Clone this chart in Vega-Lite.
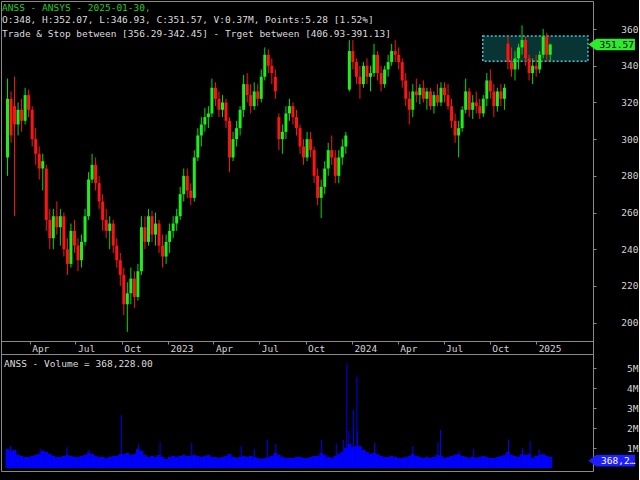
{
  "$schema": "https://vega.github.io/schema/vega-lite/v6.json",
  "background": "#000000",
  "padding": {"left": 0, "top": 0, "right": 0, "bottom": 9},
  "autosize": {"type": "pad"},
  "bounds": "flush",
  "spacing": 0,
  "config": {
    "view": {"stroke": "#8a8a8a", "strokeWidth": 1},
    "axis": {"labelFont": "DejaVu Sans Mono", "labelFontSize": 9.5, "labelColor": "#d4d4d4", "tickColor": "#8a8a8a", "domainColor": "#8a8a8a", "grid": false, "labelFlush": false, "labelOverlap": false}
  },
  "datasets": {
    "ohlc": [
      {"d":"2022-02-16","o":290,"h":333,"l":280,"c":322,"v":0.95},
      {"d":"2022-02-23","o":322,"h":326,"l":298,"c":302,"v":0.85},
      {"d":"2022-03-02","o":318,"h":334,"l":258,"c":308,"v":0.9},
      {"d":"2022-03-09","o":308,"h":320,"l":302,"c":316,"v":0.65},
      {"d":"2022-03-16","o":316,"h":322,"l":304,"c":310,"v":0.6},
      {"d":"2022-03-23","o":310,"h":328,"l":308,"c":324,"v":0.55},
      {"d":"2022-03-30","o":324,"h":327,"l":312,"c":316,"v":0.55},
      {"d":"2022-04-06","o":316,"h":318,"l":296,"c":300,"v":0.6},
      {"d":"2022-04-13","o":300,"h":306,"l":286,"c":292,"v":0.65},
      {"d":"2022-04-20","o":292,"h":296,"l":278,"c":284,"v":0.7},
      {"d":"2022-04-27","o":284,"h":292,"l":272,"c":288,"v":0.85},
      {"d":"2022-05-04","o":284,"h":286,"l":250,"c":256,"v":0.8},
      {"d":"2022-05-11","o":256,"h":262,"l":240,"c":246,"v":0.7},
      {"d":"2022-05-18","o":246,"h":262,"l":240,"c":258,"v":0.6},
      {"d":"2022-05-25","o":258,"h":266,"l":248,"c":252,"v":0.55},
      {"d":"2022-06-01","o":252,"h":262,"l":242,"c":258,"v":0.55},
      {"d":"2022-06-08","o":258,"h":260,"l":236,"c":240,"v":0.6},
      {"d":"2022-06-15","o":240,"h":246,"l":226,"c":232,"v":0.65},
      {"d":"2022-06-22","o":232,"h":254,"l":230,"c":250,"v":0.6},
      {"d":"2022-06-29","o":250,"h":256,"l":238,"c":242,"v":0.55},
      {"d":"2022-07-06","o":242,"h":246,"l":228,"c":234,"v":0.55},
      {"d":"2022-07-13","o":234,"h":248,"l":230,"c":244,"v":0.6},
      {"d":"2022-07-20","o":244,"h":262,"l":242,"c":258,"v":0.65},
      {"d":"2022-07-27","o":258,"h":282,"l":256,"c":278,"v":0.75},
      {"d":"2022-08-03","o":278,"h":292,"l":276,"c":286,"v":0.7},
      {"d":"2022-08-10","o":286,"h":290,"l":272,"c":276,"v":0.6},
      {"d":"2022-08-17","o":276,"h":280,"l":262,"c":266,"v":0.55},
      {"d":"2022-08-24","o":266,"h":270,"l":250,"c":256,"v":0.55},
      {"d":"2022-08-31","o":256,"h":262,"l":246,"c":250,"v":0.5},
      {"d":"2022-09-07","o":250,"h":258,"l":240,"c":254,"v":0.55},
      {"d":"2022-09-14","o":254,"h":256,"l":238,"c":242,"v":0.6},
      {"d":"2022-09-21","o":242,"h":246,"l":230,"c":234,"v":0.6},
      {"d":"2022-09-28","o":234,"h":238,"l":220,"c":226,"v":0.7},
      {"d":"2022-10-05","o":226,"h":230,"l":204,"c":210,"v":0.7},
      {"d":"2022-10-12","o":210,"h":222,"l":195,"c":216,"v":0.75},
      {"d":"2022-10-19","o":216,"h":230,"l":210,"c":224,"v":0.65},
      {"d":"2022-10-26","o":224,"h":228,"l":208,"c":214,"v":0.7},
      {"d":"2022-11-02","o":214,"h":232,"l":212,"c":228,"v":0.95},
      {"d":"2022-11-09","o":228,"h":258,"l":226,"c":252,"v":0.85},
      {"d":"2022-11-16","o":252,"h":258,"l":240,"c":244,"v":0.65},
      {"d":"2022-11-23","o":244,"h":262,"l":242,"c":258,"v":0.55},
      {"d":"2022-11-30","o":258,"h":261,"l":244,"c":248,"v":0.6},
      {"d":"2022-12-07","o":248,"h":260,"l":242,"c":254,"v":0.55},
      {"d":"2022-12-14","o":254,"h":256,"l":238,"c":242,"v":0.65},
      {"d":"2022-12-21","o":242,"h":248,"l":230,"c":236,"v":0.55},
      {"d":"2022-12-28","o":236,"h":248,"l":232,"c":244,"v":0.45},
      {"d":"2023-01-04","o":244,"h":254,"l":238,"c":250,"v":0.55},
      {"d":"2023-01-11","o":250,"h":258,"l":246,"c":254,"v":0.6},
      {"d":"2023-01-18","o":254,"h":262,"l":250,"c":258,"v":0.55},
      {"d":"2023-01-25","o":258,"h":274,"l":256,"c":270,"v":0.6},
      {"d":"2023-02-01","o":270,"h":284,"l":266,"c":280,"v":0.65},
      {"d":"2023-02-08","o":280,"h":284,"l":268,"c":272,"v":0.6},
      {"d":"2023-02-15","o":272,"h":276,"l":264,"c":268,"v":0.6},
      {"d":"2023-02-22","o":268,"h":294,"l":266,"c":290,"v":0.65},
      {"d":"2023-03-01","o":290,"h":306,"l":288,"c":302,"v":0.6},
      {"d":"2023-03-08","o":302,"h":312,"l":296,"c":308,"v":0.55},
      {"d":"2023-03-15","o":308,"h":317,"l":304,"c":312,"v":0.6},
      {"d":"2023-03-22","o":312,"h":318,"l":306,"c":314,"v":0.65},
      {"d":"2023-03-29","o":314,"h":333,"l":312,"c":328,"v":0.55},
      {"d":"2023-04-05","o":328,"h":331,"l":318,"c":322,"v":0.55},
      {"d":"2023-04-12","o":322,"h":326,"l":312,"c":316,"v":0.5},
      {"d":"2023-04-19","o":316,"h":324,"l":312,"c":320,"v":0.55},
      {"d":"2023-04-26","o":320,"h":322,"l":306,"c":310,"v":0.6},
      {"d":"2023-05-03","o":310,"h":312,"l":282,"c":290,"v":0.7},
      {"d":"2023-05-10","o":290,"h":304,"l":288,"c":300,"v":0.55},
      {"d":"2023-05-17","o":300,"h":310,"l":296,"c":306,"v":0.5},
      {"d":"2023-05-24","o":306,"h":318,"l":302,"c":316,"v":0.55},
      {"d":"2023-05-31","o":316,"h":335,"l":312,"c":330,"v":0.6},
      {"d":"2023-06-07","o":330,"h":336,"l":320,"c":324,"v":0.55},
      {"d":"2023-06-14","o":324,"h":330,"l":314,"c":318,"v":0.6},
      {"d":"2023-06-21","o":318,"h":331,"l":316,"c":326,"v":0.55},
      {"d":"2023-06-28","o":326,"h":330,"l":318,"c":322,"v":0.5},
      {"d":"2023-07-05","o":322,"h":338,"l":320,"c":334,"v":0.45},
      {"d":"2023-07-12","o":334,"h":350,"l":332,"c":346,"v":0.5},
      {"d":"2023-07-19","o":346,"h":349,"l":336,"c":340,"v":0.55},
      {"d":"2023-07-26","o":340,"h":344,"l":330,"c":336,"v":0.6},
      {"d":"2023-08-02","o":334,"h":338,"l":322,"c":326,"v":0.75},
      {"d":"2023-08-09","o":312,"h":314,"l":294,"c":300,"v":0.65},
      {"d":"2023-08-16","o":300,"h":308,"l":292,"c":304,"v":0.55},
      {"d":"2023-08-23","o":304,"h":318,"l":300,"c":314,"v":0.5},
      {"d":"2023-08-30","o":314,"h":322,"l":310,"c":318,"v":0.5},
      {"d":"2023-09-06","o":318,"h":320,"l":308,"c":312,"v":0.5},
      {"d":"2023-09-13","o":312,"h":316,"l":302,"c":306,"v":0.55},
      {"d":"2023-09-20","o":306,"h":308,"l":292,"c":296,"v":0.55},
      {"d":"2023-09-27","o":296,"h":300,"l":286,"c":290,"v":0.5},
      {"d":"2023-10-04","o":290,"h":304,"l":288,"c":300,"v":0.5},
      {"d":"2023-10-11","o":300,"h":304,"l":290,"c":294,"v":0.55},
      {"d":"2023-10-18","o":294,"h":296,"l":276,"c":280,"v":0.6},
      {"d":"2023-10-25","o":280,"h":284,"l":264,"c":268,"v":0.6},
      {"d":"2023-11-01","o":268,"h":278,"l":257,"c":274,"v":0.75},
      {"d":"2023-11-08","o":274,"h":288,"l":270,"c":284,"v":0.65},
      {"d":"2023-11-15","o":284,"h":298,"l":280,"c":294,"v":0.55},
      {"d":"2023-11-22","o":294,"h":302,"l":286,"c":290,"v":0.5},
      {"d":"2023-11-29","o":290,"h":294,"l":276,"c":280,"v":0.6},
      {"d":"2023-12-06","o":280,"h":294,"l":276,"c":290,"v":0.7},
      {"d":"2023-12-13","o":290,"h":300,"l":286,"c":296,"v":0.8},
      {"d":"2023-12-20","o":296,"h":304,"l":292,"c":302,"v":1.0},
      {"d":"2023-12-27","o":327,"h":354,"l":326,"c":348,"v":1.2},
      {"d":"2024-01-03","o":348,"h":354,"l":338,"c":342,"v":1.05},
      {"d":"2024-01-10","o":342,"h":344,"l":330,"c":334,"v":1.1},
      {"d":"2024-01-17","o":334,"h":340,"l":322,"c":330,"v":1.1},
      {"d":"2024-01-24","o":330,"h":342,"l":328,"c":340,"v":0.9},
      {"d":"2024-01-31","o":340,"h":344,"l":330,"c":334,"v":0.8},
      {"d":"2024-02-07","o":334,"h":340,"l":326,"c":336,"v":0.7},
      {"d":"2024-02-14","o":336,"h":352,"l":334,"c":346,"v":0.75},
      {"d":"2024-02-21","o":346,"h":348,"l":332,"c":336,"v":0.7},
      {"d":"2024-02-28","o":336,"h":340,"l":326,"c":330,"v":0.6},
      {"d":"2024-03-06","o":330,"h":340,"l":328,"c":338,"v":0.55},
      {"d":"2024-03-13","o":338,"h":346,"l":334,"c":342,"v":0.55},
      {"d":"2024-03-20","o":342,"h":352,"l":340,"c":348,"v":0.6},
      {"d":"2024-03-27","o":348,"h":354,"l":342,"c":346,"v":0.55},
      {"d":"2024-04-03","o":346,"h":350,"l":338,"c":342,"v":0.5},
      {"d":"2024-04-10","o":342,"h":344,"l":328,"c":332,"v":0.5},
      {"d":"2024-04-17","o":332,"h":336,"l":318,"c":322,"v":0.55},
      {"d":"2024-04-24","o":322,"h":326,"l":308,"c":316,"v":0.6},
      {"d":"2024-05-01","o":316,"h":330,"l":312,"c":326,"v":0.7},
      {"d":"2024-05-08","o":326,"h":333,"l":320,"c":324,"v":0.6},
      {"d":"2024-05-15","o":324,"h":330,"l":319,"c":328,"v":0.55},
      {"d":"2024-05-22","o":328,"h":332,"l":320,"c":322,"v":0.5},
      {"d":"2024-05-29","o":322,"h":328,"l":316,"c":326,"v":0.55},
      {"d":"2024-06-05","o":326,"h":328,"l":316,"c":318,"v":0.5},
      {"d":"2024-06-12","o":318,"h":326,"l":314,"c":324,"v":0.55},
      {"d":"2024-06-19","o":324,"h":330,"l":318,"c":320,"v":0.65},
      {"d":"2024-06-26","o":320,"h":331,"l":318,"c":328,"v":0.6},
      {"d":"2024-07-03","o":328,"h":331,"l":320,"c":324,"v":0.5},
      {"d":"2024-07-10","o":324,"h":330,"l":316,"c":318,"v":0.55},
      {"d":"2024-07-17","o":318,"h":322,"l":306,"c":310,"v":0.6},
      {"d":"2024-07-24","o":310,"h":314,"l":298,"c":302,"v":0.65},
      {"d":"2024-07-31","o":302,"h":310,"l":290,"c":306,"v":0.7},
      {"d":"2024-08-07","o":306,"h":318,"l":304,"c":316,"v":0.6},
      {"d":"2024-08-14","o":316,"h":333,"l":314,"c":326,"v":0.55},
      {"d":"2024-08-21","o":326,"h":328,"l":312,"c":316,"v":0.5},
      {"d":"2024-08-28","o":316,"h":324,"l":311,"c":320,"v":0.55},
      {"d":"2024-09-04","o":320,"h":326,"l":314,"c":318,"v":0.5},
      {"d":"2024-09-11","o":318,"h":322,"l":311,"c":314,"v":0.55},
      {"d":"2024-09-18","o":314,"h":324,"l":312,"c":322,"v":0.6},
      {"d":"2024-09-25","o":322,"h":336,"l":318,"c":332,"v":0.55},
      {"d":"2024-10-02","o":332,"h":338,"l":322,"c":326,"v":0.5},
      {"d":"2024-10-09","o":326,"h":330,"l":312,"c":318,"v":0.5},
      {"d":"2024-10-16","o":318,"h":328,"l":315,"c":326,"v":0.55},
      {"d":"2024-10-23","o":326,"h":330,"l":318,"c":322,"v":0.6},
      {"d":"2024-10-30","o":322,"h":330,"l":316,"c":328,"v":0.65},
      {"d":"2024-11-06","o":352,"h":356,"l":338,"c":342,"v":0.8},
      {"d":"2024-11-13","o":342,"h":350,"l":334,"c":338,"v":0.65},
      {"d":"2024-11-20","o":338,"h":348,"l":332,"c":344,"v":0.6},
      {"d":"2024-11-27","o":344,"h":352,"l":338,"c":350,"v":0.55},
      {"d":"2024-12-04","o":350,"h":362,"l":346,"c":354,"v":0.7},
      {"d":"2024-12-11","o":354,"h":356,"l":340,"c":344,"v":0.65},
      {"d":"2024-12-18","o":344,"h":346,"l":332,"c":336,"v":0.7},
      {"d":"2024-12-25","o":336,"h":344,"l":330,"c":340,"v":0.5},
      {"d":"2025-01-01","o":340,"h":346,"l":334,"c":338,"v":0.6},
      {"d":"2025-01-08","o":338,"h":348,"l":336,"c":346,"v":0.65},
      {"d":"2025-01-15","o":346,"h":360,"l":344,"c":356,"v":0.7},
      {"d":"2025-01-22","o":356,"h":358,"l":342,"c":346,"v":0.6},
      {"d":"2025-01-29","o":346,"h":352.07,"l":342,"c":351.57,"v":0.55}
    ],
    "spikes": [
      {"d":"2022-02-22","v":1.1},
      {"d":"2022-04-22","v":0.95},
      {"d":"2022-06-14","v":1.05},
      {"d":"2022-07-28","v":0.9},
      {"d":"2022-09-30","v":2.65},
      {"d":"2022-11-03","v":1.2},
      {"d":"2022-12-16","v":1.27},
      {"d":"2023-02-17","v":1.27},
      {"d":"2023-05-26","v":1.1},
      {"d":"2023-06-21","v":0.95},
      {"d":"2023-07-17","v":1.43},
      {"d":"2023-08-03","v":1.2},
      {"d":"2023-11-02","v":1.4},
      {"d":"2023-12-01","v":1.23},
      {"d":"2023-12-15","v":1.4},
      {"d":"2023-12-22","v":5.22},
      {"d":"2023-12-26","v":1.85},
      {"d":"2024-01-04","v":2.9},
      {"d":"2024-01-11","v":4.57},
      {"d":"2024-01-12","v":1.85},
      {"d":"2024-02-15","v":1.27},
      {"d":"2024-05-01","v":1.1},
      {"d":"2024-06-20","v":1.3},
      {"d":"2024-06-25","v":1.9},
      {"d":"2024-08-01","v":0.85},
      {"d":"2024-08-30","v":0.97},
      {"d":"2024-11-07","v":1.43},
      {"d":"2024-12-05","v":1.0},
      {"d":"2024-12-20","v":1.35},
      {"d":"2025-01-07","v":0.93}
    ],
    "last": [{"p": 351.57, "t": "351.57", "v": 0.368228, "vt": "368,228.00"}]
  },
  "vconcat": [
    {
      "width": 592,
      "height": 353,
      "title": {
        "text": "ANSS - ANSYS - 2025-01-30,",
        "subtitle": ["O:348, H:352.07, L:346.93, C:351.57, V:0.37M, Points:5.28 [1.52%]", "Trade & Stop between [356.29-342.45] - Trget between [406.93-391.13]"],
        "anchor": "start",
        "orient": "top",
        "frame": "group",
        "offset": -37,
        "dx": 1,
        "font": "DejaVu Sans Mono",
        "fontSize": 9.5,
        "fontWeight": "normal",
        "color": "#22cc22",
        "subtitleFont": "DejaVu Sans Mono",
        "subtitleFontSize": 9.5,
        "subtitleColor": "#dcdcdc",
        "subtitlePadding": 3,
        "subtitleLineHeight": 13.5
      },
      "layer": [
        {
          "data": {"values": [{"d": "2024-09-17", "d2": "2025-04-14", "l": 342.45, "h": 356.29}]},
          "mark": {"type": "rect", "fill": "#0f6868", "fillOpacity": 0.5, "stroke": "#3cc6d6", "strokeDash": [2, 2], "strokeWidth": 1.5},
          "encoding": {
            "x": {
              "field": "d", "type": "temporal", "title": null,
              "scale": {"type": "utc", "domain": [{"year": 2022, "month": 2, "date": 13, "utc": true}, {"year": 2025, "month": 4, "date": 14, "utc": true}]},
              "axis": {
                "orient": "bottom", "offset": -13, "domain": true, "ticks": true, "tickSize": 3,
                "labelAlign": "left", "labelBaseline": "top", "labelPadding": -1, "labelOffset": 2,
                "values": [
                  {"year": 2022, "month": 4, "date": 1, "utc": true},
                  {"year": 2022, "month": 7, "date": 1, "utc": true},
                  {"year": 2022, "month": 10, "date": 1, "utc": true},
                  {"year": 2023, "month": 1, "date": 1, "utc": true},
                  {"year": 2023, "month": 4, "date": 1, "utc": true},
                  {"year": 2023, "month": 7, "date": 1, "utc": true},
                  {"year": 2023, "month": 10, "date": 1, "utc": true},
                  {"year": 2024, "month": 1, "date": 1, "utc": true},
                  {"year": 2024, "month": 4, "date": 1, "utc": true},
                  {"year": 2024, "month": 7, "date": 1, "utc": true},
                  {"year": 2024, "month": 10, "date": 1, "utc": true},
                  {"year": 2025, "month": 1, "date": 1, "utc": true}
                ],
                "labelExpr": "utcFormat(datum.value, '%m') == '01' ? utcFormat(datum.value, '%Y') : utcFormat(datum.value, '%b')"
              }
            },
            "x2": {"field": "d2"},
            "y": {
              "field": "l", "type": "quantitative", "title": null,
              "scale": {"domain": [182.9, 375.3], "nice": false, "zero": false},
              "axis": {"orient": "right", "domain": false, "ticks": true, "tickSize": 3, "labelOverlap": false, "values": [200, 220, 240, 260, 280, 300, 320, 340, 360], "labelAlign": "right", "labelBaseline": "middle", "labelPadding": 42}
            },
            "y2": {"field": "h"}
          }
        },
        {
          "data": {"name": "ohlc"},
          "mark": {"type": "rule", "strokeWidth": 1},
          "encoding": {
            "x": {"field": "d", "type": "temporal", "title": null},
            "y": {"field": "l", "type": "quantitative", "title": null},
            "y2": {"field": "h"},
            "color": {"condition": {"test": "datum.c >= datum.o", "value": "#00dd00"}, "value": "#ff1414"}
          }
        },
        {
          "data": {"name": "ohlc"},
          "mark": {"type": "bar", "width": 3},
          "encoding": {
            "x": {"field": "d", "type": "temporal", "title": null},
            "y": {"field": "o", "type": "quantitative", "title": null},
            "y2": {"field": "c"},
            "color": {"condition": {"test": "datum.c >= datum.o", "value": "#1cf01c"}, "value": "#ff1414"}
          }
        },
        {
          "data": {"name": "last"},
          "mark": {"type": "point", "shape": "M-1,0L-0.66,-0.25L1,-0.25L1,0.25L-0.66,0.25Z", "size": 2162, "filled": true, "color": "#2cea2c", "opacity": 1, "strokeWidth": 0, "clip": false},
          "encoding": {
            "x": {"datum": {"year": 2025, "month": 5, "date": 31, "utc": true}, "type": "temporal", "title": null},
            "y": {"field": "p", "type": "quantitative", "title": null}
          }
        },
        {
          "data": {"name": "last"},
          "mark": {"type": "text", "align": "left", "baseline": "middle", "font": "DejaVu Sans Mono", "fontSize": 9.5, "color": "#000000", "clip": false},
          "encoding": {
            "x": {"datum": {"year": 2025, "month": 5, "date": 7, "utc": true}, "type": "temporal", "title": null},
            "y": {"field": "p", "type": "quantitative", "title": null},
            "text": {"field": "t"}
          }
        }
      ]
    },
    {
      "width": 592,
      "height": 117,
      "title": {
        "text": "ANSS - Volume = 368,228.00",
        "anchor": "start",
        "orient": "top",
        "frame": "group",
        "offset": -14,
        "dx": 3,
        "font": "DejaVu Sans Mono",
        "fontSize": 9.5,
        "fontWeight": "normal",
        "color": "#dcdcdc"
      },
      "encoding": {
        "y": {
          "field": "v", "type": "quantitative", "title": null,
          "scale": {"domain": [-0.15, 5.7], "nice": false},
          "axis": {"orient": "right", "domain": false, "ticks": true, "tickSize": 3, "labelOverlap": false, "labelSeparation": 0, "values": [1, 2, 3, 4, 5], "labelExpr": "datum.value + 'M'", "labelAlign": "right", "labelBaseline": "middle", "labelPadding": 42}
        }
      },
      "layer": [
        {
          "data": {"name": "ohlc"},
          "mark": {"type": "bar", "width": 3.8, "color": "#0000ff"},
          "encoding": {
            "x": {
              "field": "d", "type": "temporal", "title": null, "axis": null,
              "scale": {"type": "utc", "domain": [{"year": 2022, "month": 2, "date": 13, "utc": true}, {"year": 2025, "month": 4, "date": 14, "utc": true}]}
            }
          }
        },
        {
          "data": {"name": "spikes"},
          "mark": {"type": "rule", "color": "#0000ff", "strokeWidth": 1},
          "encoding": {
            "x": {"field": "d", "type": "temporal", "title": null, "axis": null},
            "y2": {"datum": 0}
          }
        },
        {
          "data": {"name": "last"},
          "mark": {"type": "point", "shape": "M-1,0L-0.66,-0.25L1,-0.25L1,0.25L-0.66,0.25Z", "size": 2162, "filled": true, "color": "#1e1eff", "opacity": 1, "strokeWidth": 0, "clip": false},
          "encoding": {
            "x": {"datum": {"year": 2025, "month": 5, "date": 31, "utc": true}, "type": "temporal", "title": null, "axis": null}
          }
        },
        {
          "data": {"name": "last"},
          "mark": {"type": "text", "align": "left", "baseline": "middle", "font": "DejaVu Sans Mono", "fontSize": 9.5, "color": "#ffffff", "limit": 35.5, "ellipsis": "", "clip": false},
          "encoding": {
            "x": {"datum": {"year": 2025, "month": 5, "date": 10, "utc": true}, "type": "temporal", "title": null, "axis": null},
            "text": {"field": "vt"}
          }
        }
      ]
    }
  ]
}
